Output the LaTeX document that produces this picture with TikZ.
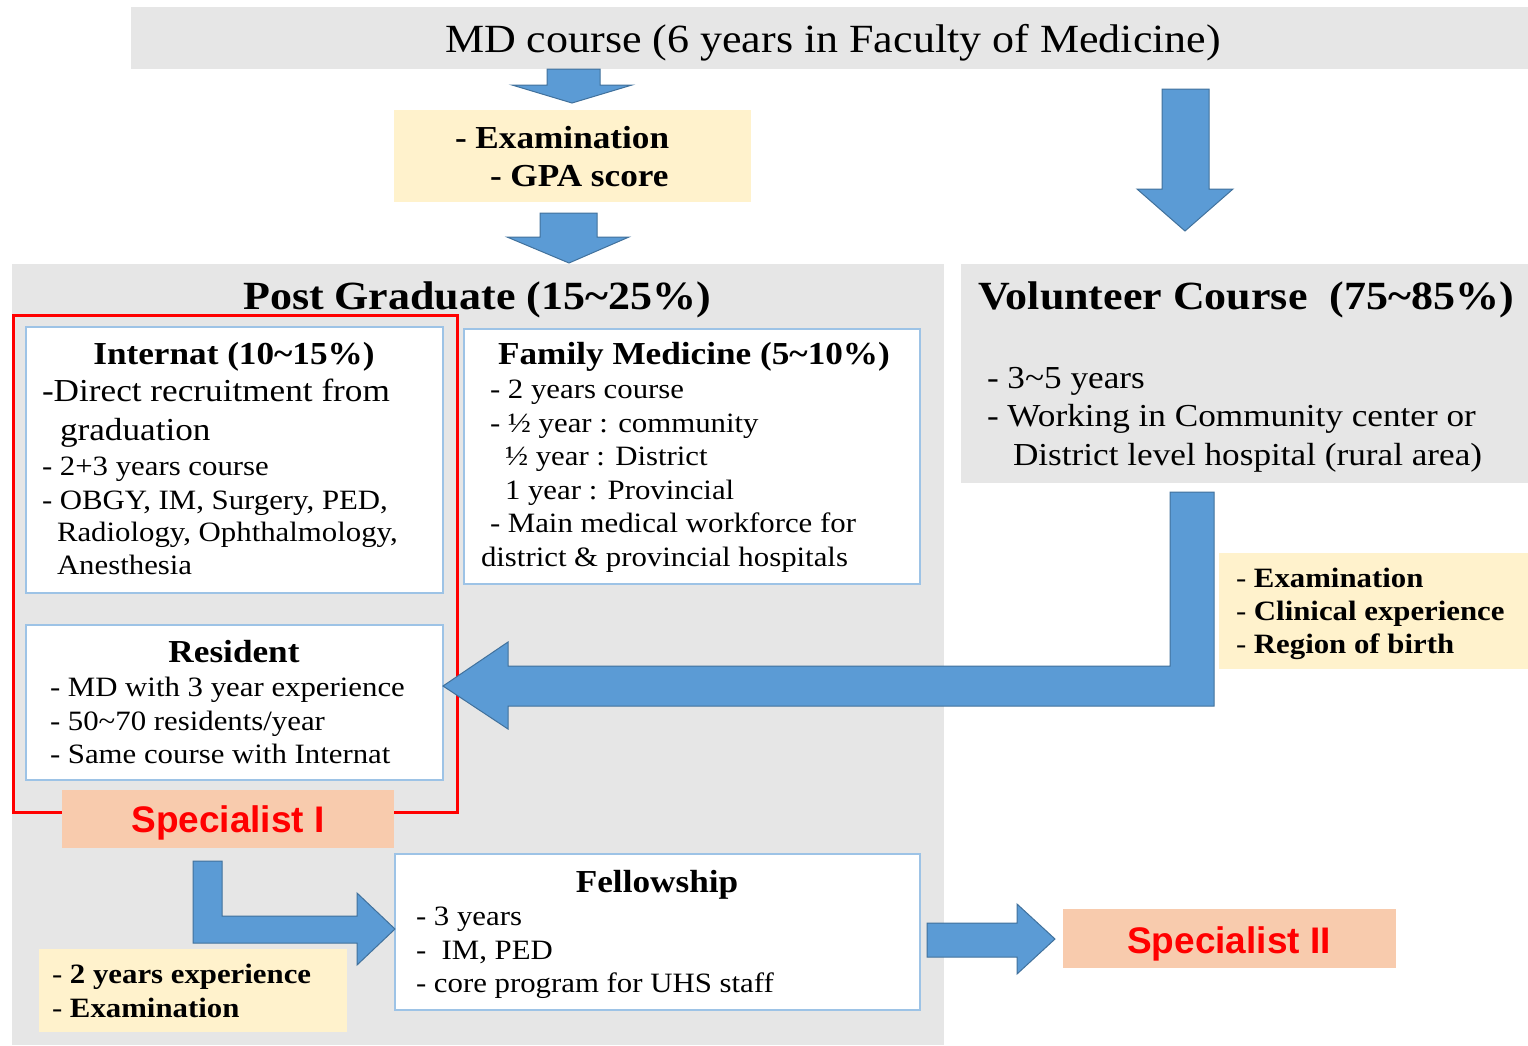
\documentclass[tikz,border=0pt]{standalone}
\usepackage{fontspec}
\setmainfont{Liberation Serif}[FakeStretch=1.1]
\newfontfamily\specfont{Liberation Sans}
\definecolor{bggray}{HTML}{E6E6E6}
\definecolor{arrfill}{HTML}{5B9BD5}
\definecolor{arrline}{HTML}{41719C}
\definecolor{notecol}{HTML}{FFF2CC}
\definecolor{peach}{HTML}{F8CBAD}
\definecolor{boxline}{HTML}{9DC3E6}
\definecolor{specred}{HTML}{FF0000}
\newcommand\fsBig{\fontsize{40}{46}\selectfont}
\newcommand\fsMid{\fontsize{32}{38}\selectfont}
\newcommand\fsSmall{\fontsize{28}{33}\selectfont}
\newcommand\fsSpec{\fontsize{37}{42}\selectfont}
\begin{document}
\begin{tikzpicture}[x=1pt,y=-1pt,
  area/.style={anchor=north west, inner sep=0pt, outer sep=0pt},
  panel/.style={area, fill=bggray},
  notebox/.style={area, fill=notecol},
  infobox/.style={area, fill=white, draw=boxline, line width=1.2pt},
  specbox/.style={area, fill=peach},
  redframe/.style={area, draw=specred, line width=3pt},
  blockarrow/.style={fill=arrfill, draw=arrline, line width=1pt, line join=miter},
  txt/.style={anchor=base west, inner sep=0pt, outer sep=0pt},
  ctxt/.style={anchor=base, inner sep=0pt, outer sep=0pt},
  spectxt/.style={ctxt, font=\specfont\bfseries\fsSpec, text=specred}]
\useasboundingbox (0,0) rectangle (1528,1045);
% background panels
\node[panel, minimum width=1397pt, minimum height=62pt] (mdbox) at (131,7) {};
\node[panel, minimum width=932pt, minimum height=781pt] (pgpanel) at (12,264) {};
\node[panel, minimum width=567pt, minimum height=219pt] (volpanel) at (961,264) {};
% notes
\node[notebox, minimum width=357pt, minimum height=92pt] (note1) at (394,110) {};
\node[notebox, minimum width=309pt, minimum height=116pt] (note2) at (1219,553) {};
\node[notebox, minimum width=308pt, minimum height=83pt] (note3) at (39,949) {};
% red frame and info boxes
\node[redframe, minimum width=444pt, minimum height=497pt] (frame1) at (13,315) {};
\node[infobox, minimum width=417pt, minimum height=266pt] (internat) at (26,327) {};
\node[infobox, minimum width=417pt, minimum height=155pt] (resident) at (26,625) {};
\node[infobox, minimum width=456pt, minimum height=255pt] (famed) at (464,329) {};
\node[infobox, minimum width=525pt, minimum height=156pt] (fellow) at (395,854) {};
\node[specbox, minimum width=332pt, minimum height=58pt] (spec1) at (62,790) {};
\node[specbox, minimum width=333pt, minimum height=59pt] (spec2) at (1063,909) {};
% block arrows
\draw[blockarrow] (547,69) -- (600,69) -- (600,85) -- (632,85) -- (572,103) -- (512,85) -- (547,85) -- cycle;
\draw[blockarrow] (540,213) -- (597,213) -- (597,237) -- (629,237) -- (569,263) -- (507,237) -- (540,237) -- cycle;
\draw[blockarrow] (1162,89) -- (1209,89) -- (1209,189) -- (1233,189) -- (1185,231) -- (1137,189) -- (1162,189) -- cycle;
\draw[blockarrow] (1170,492) -- (1214,492) -- (1214,706) -- (508,706) -- (508,729) -- (443,686) -- (508,642) -- (508,666) -- (1170,666) -- cycle;
\draw[blockarrow] (193,861) -- (222,861) -- (222,916) -- (357,916) -- (357,893) -- (395,929) -- (357,965) -- (357,943) -- (193,943) -- cycle;
\draw[blockarrow] (927,923) -- (1017,923) -- (1017,904) -- (1055,939) -- (1017,974) -- (1017,957) -- (927,957) -- cycle;
% texts
\node[ctxt, font=\fsBig] (mdtitle) at (833,52) {MD course (6 years in Faculty of Medicine)};
\node[txt, font=\bfseries\fsMid] (n1a) at (455,148) {- Examination};
\node[txt, font=\bfseries\fsMid] (n1b) at (490,186) {- GPA score};
\node[ctxt, font=\bfseries\fsBig] (pgtitle) at (477,309) {Post Graduate (15\textasciitilde 25\%)};
\node[txt, font=\bfseries\fsBig] (voltitle) at (978,309) {Volunteer Course\ \ (75\textasciitilde 85\%)};
\node[txt, font=\fsMid] (vol1) at (987,388) {- 3\textasciitilde 5 years};
\node[txt, font=\fsMid] (vol2) at (987,426) {- Working in Community center or};
\node[txt, font=\fsMid] (vol3) at (1013,465) {District level hospital (rural area)};
% internat
\node[ctxt, font=\bfseries\fsMid] (intt) at (234,364) {Internat (10\textasciitilde 15\%)};
\node[txt, font=\fsMid] (int1) at (42,401) {-Direct recruitment from};
\node[txt, font=\fsMid] (int2) at (60,440) {graduation};
\node[txt, font=\fsSmall] (int3) at (42,475) {- 2+3 years course};
\node[txt, font=\fsSmall] (int4) at (42,509) {- OBGY, IM, Surgery, PED,};
\node[txt, font=\fsSmall] (int5) at (57,541) {Radiology, Ophthalmology,};
\node[txt, font=\fsSmall] (int6) at (57,574) {Anesthesia};
% family medicine
\node[ctxt, font=\bfseries\fsMid] (famt) at (694,364) {Family Medicine (5\textasciitilde 10\%)};
\node[txt, font=\fsSmall] (fam1) at (490,398) {- 2 years course};
\node[txt, font=\fsSmall] (fam2) at (490,432) {- ½ year : community};
\node[txt, font=\fsSmall] (fam3) at (505,465) {½ year : District};
\node[txt, font=\fsSmall] (fam4) at (505,499) {1 year : Provincial};
\node[txt, font=\fsSmall] (fam5) at (490,532) {- Main medical workforce for};
\node[txt, font=\fsSmall] (fam6) at (481,566) {district \& provincial hospitals};
% resident
\node[ctxt, font=\bfseries\fsMid] (rest) at (234,662) {Resident};
\node[txt, font=\fsSmall] (res1) at (50,696) {- MD with 3 year experience};
\node[txt, font=\fsSmall] (res2) at (50,730) {- 50\textasciitilde 70 residents/year};
\node[txt, font=\fsSmall] (res3) at (50,763) {- Same course with Internat};
% specialists
\node[spectxt] (s1t) at (228,832) {Specialist I};
\node[spectxt] (s2t) at (1229,953) {Specialist II};
% right note
\node[txt, font=\fsSmall] (n2a) at (1236,587) {- \textbf{Examination}};
\node[txt, font=\fsSmall] (n2b) at (1236,620) {- \textbf{Clinical experience}};
\node[txt, font=\fsSmall] (n2c) at (1236,653) {- \textbf{Region of birth}};
% fellowship
\node[ctxt, font=\bfseries\fsMid] (felt) at (657,892) {Fellowship};
\node[txt, font=\fsSmall] (fel1) at (416,925) {- 3 years};
\node[txt, font=\fsSmall] (fel2) at (416,959) {-\ \ IM, PED};
\node[txt, font=\fsSmall] (fel3) at (416,992) {- core program for UHS staff};
% bottom-left note
\node[txt, font=\fsSmall] (n3a) at (52,983) {- \textbf{2 years experience}};
\node[txt, font=\fsSmall] (n3b) at (52,1017) {- \textbf{Examination}};
\end{tikzpicture}
\end{document}
